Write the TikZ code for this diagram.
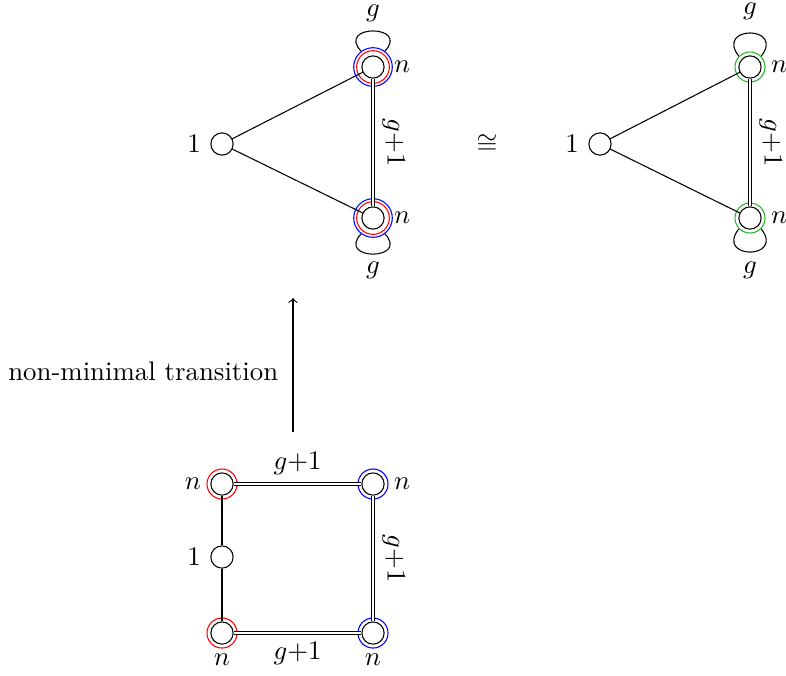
\documentclass[tikz,border=0pt]{standalone}
\usetikzlibrary{positioning}
\definecolor{ringgreen}{RGB}{40,180,40}
\begin{document}
\begin{tikzpicture}[x=0.373pt,y=-0.373pt,
  vert/.style={circle,draw,inner sep=0pt,minimum size=8.3pt},
  ring/.style={circle,draw,inner sep=0pt,minimum size=#1},
  dbl/.style={double,double distance=0.8pt},
  rlab/.style={midway,rotate=-90,anchor=south},
]
\useasboundingbox (0,0) rectangle (786,675);

% ---------- left triangle ----------
\node[vert] (A1) at (222,144) {};
\node[vert] (A2) at (373,67) {};
\node[vert] (A3) at (373,218) {};
\node[ring=12.2pt,red] (A2r) at (373,67) {};
\node[ring=14.4pt,blue] (A2b) at (373,67) {};
\node[ring=12.2pt,red] (A3r) at (373,218) {};
\node[ring=14.4pt,blue] (A3b) at (373,218) {};
\draw (A1) -- (A2);
\draw (A1) -- (A3);
\draw[dbl] (A2) -- node[rlab] (A23l) {$g{+}1$} (A3);
\draw (A2b.127) .. controls +(-25,-27) and +(25,-27) .. (A2b.53);
\draw (A3b.-127) .. controls +(-25,27) and +(25,27) .. (A3b.-53);
\node[left=0pt of A1] (A1l) {$1$};
\node[right=0pt of A2] (A2l) {$n$};
\node[right=0pt of A3] (A3l) {$n$};
\node (A2g) at (373,13) {$g$};
\node (A3g) at (373,270) {$g$};

% ---------- iso ----------
\node (iso) at (487,144) {$\cong$};

% ---------- right triangle ----------
\node[vert] (B1) at (600,144) {};
\node[vert] (B2) at (750,67) {};
\node[vert] (B3) at (750,218) {};
\node[ring=11.2pt,ringgreen] (B2g) at (750,67) {};
\node[ring=11.2pt,ringgreen] (B3g) at (750,218) {};
\draw (B1) -- (B2);
\draw (B1) -- (B3);
\draw[dbl] (B2) -- node[rlab] (B23l) {$g{+}1$} (B3);
\draw (B2g.136) .. controls +(-24,-31) and +(24,-31) .. (B2g.44);
\draw (B3g.-136) .. controls +(-24,31) and +(24,31) .. (B3g.-44);
\node[left=0pt of B1] (B1l) {$1$};
\node[right=0pt of B2] (B2l) {$n$};
\node[right=0pt of B3] (B3l) {$n$};
\node (B2lab) at (750,11) {$g$};
\node (B3lab) at (750,270) {$g$};

% ---------- arrow ----------
\coordinate (arrS) at (293,432);
\coordinate (arrE) at (293,298);
\draw[->] (arrS) -- node[pos=0.45,left=2pt] (arrl) {non-minimal transition} (arrE);

% ---------- square ----------
\node[vert] (C1) at (222,484) {};
\node[vert] (C2) at (373,484) {};
\node[vert] (C3) at (222,557) {};
\node[vert] (C4) at (222,633) {};
\node[vert] (C5) at (373,633) {};
\node[ring=11.2pt,red] (C1r) at (222,484) {};
\node[ring=11.2pt,blue] (C2b) at (373,484) {};
\node[ring=11.2pt,red] (C4r) at (222,633) {};
\node[ring=11.2pt,blue] (C5b) at (373,633) {};
\draw (C1) -- (C3);
\draw (C3) -- (C4);
\draw[dbl] (C1) -- node[midway,above] (C12l) {$g{+}1$} (C2);
\draw[dbl] (C2) -- node[rlab] (C25l) {$g{+}1$} (C5);
\draw[dbl] (C4) -- node[midway,below] (C45l) {$g{+}1$} (C5);
\node[left=0pt of C1] (C1l) {$n$};
\node[right=0pt of C2] (C2l) {$n$};
\node[left=0pt of C3] (C3l) {$1$};
\node[below=0pt of C4] (C4l) {$n$};
\node[below=0pt of C5] (C5l) {$n$};
\end{tikzpicture}
\end{document}
